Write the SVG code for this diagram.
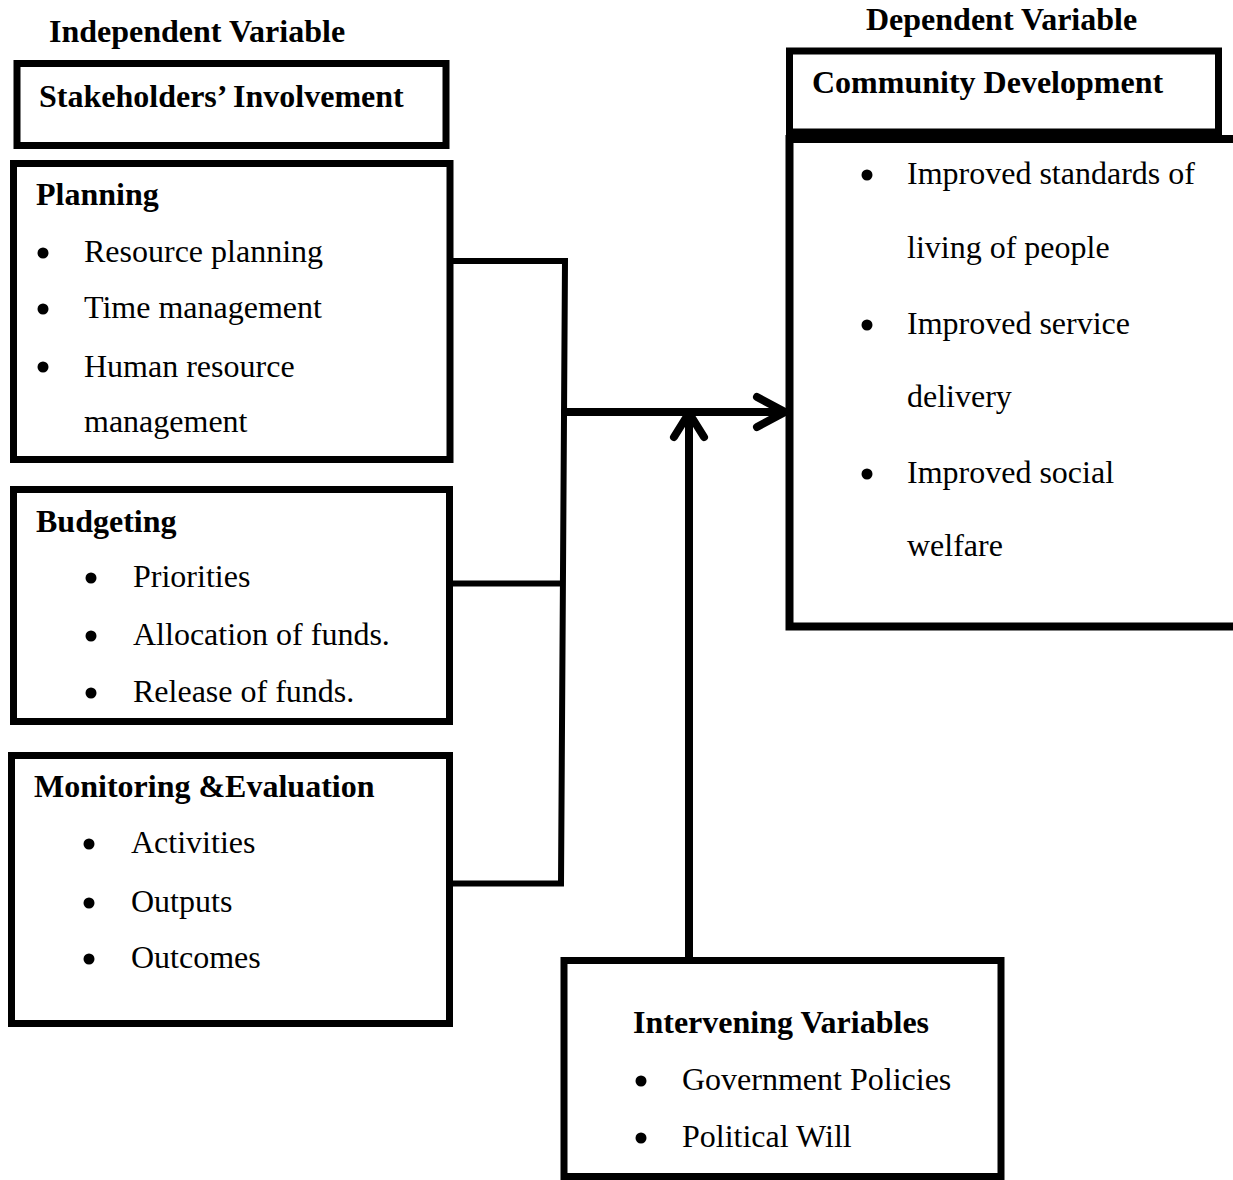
<svg xmlns="http://www.w3.org/2000/svg" width="1233" height="1180" viewBox="0 0 1233 1180">
<style>
  text { font-family: "Liberation Serif", "Times New Roman", serif; font-size: 32px; fill: #000; }
  .b { font-weight: bold; }
  .box { fill: #fff; stroke: #000; stroke-width: 7; }
  .conn { fill: none; stroke: #000; stroke-width: 6; }
  .arrow { fill: none; stroke: #000; stroke-width: 8; stroke-linecap: round; stroke-linejoin: round; }
  .bul { fill: #000; }
</style>
<rect width="1233" height="1180" fill="#fff"/>

<g id="label-independent">
  <text class="b" x="49" y="42">Independent Variable</text>
</g>
<g id="label-dependent">
  <text class="b" x="866" y="30">Dependent Variable</text>
</g>

<g id="stakeholders">
  <rect class="box" x="17" y="63.5" width="429" height="82"/>
  <text class="b" x="39" y="107">Stakeholders’ Involvement</text>
</g>

<g id="planning">
  <rect class="box" x="13.5" y="163.5" width="436.5" height="296"/>
  <text class="b" x="36" y="205">Planning</text>
  <circle class="bul" cx="43" cy="253" r="5.5"/>
  <text x="84" y="262">Resource planning</text>
  <circle class="bul" cx="43" cy="309" r="5.5"/>
  <text x="84" y="318">Time management</text>
  <circle class="bul" cx="43" cy="367" r="5.5"/>
  <text x="84" y="377">Human resource</text>
  <text x="84" y="432">management</text>
</g>

<g id="budgeting">
  <rect class="box" x="13.5" y="489.5" width="436" height="232"/>
  <text class="b" x="36" y="532">Budgeting</text>
  <circle class="bul" cx="91" cy="578" r="5.5"/>
  <text x="133" y="587">Priorities</text>
  <circle class="bul" cx="91" cy="636" r="5.5"/>
  <text x="133" y="645">Allocation of funds.</text>
  <circle class="bul" cx="91" cy="693" r="5.5"/>
  <text x="133" y="702">Release of funds.</text>
</g>

<g id="monitoring">
  <rect class="box" x="11.5" y="755.5" width="438" height="268"/>
  <text class="b" x="34" y="797">Monitoring &amp;Evaluation</text>
  <circle class="bul" cx="89" cy="844" r="5.5"/>
  <text x="131" y="853">Activities</text>
  <circle class="bul" cx="89" cy="903" r="5.5"/>
  <text x="131" y="912">Outputs</text>
  <circle class="bul" cx="89" cy="959" r="5.5"/>
  <text x="131" y="968">Outcomes</text>
</g>

<g id="community-development">
  <path d="M1240,139 H789.5 V626.5 H1240" fill="#fff" stroke="#000" stroke-width="8"/>
  <rect class="box" x="789.5" y="51" width="429" height="81" stroke-width="8"/>
  <text class="b" x="812" y="93">Community Development</text>
  <circle class="bul" cx="867" cy="175" r="5.5"/>
  <text x="907" y="184">Improved standards of</text>
  <text x="907" y="258">living of people</text>
  <circle class="bul" cx="867" cy="325" r="5.5"/>
  <text x="907" y="334">Improved service</text>
  <text x="907" y="407">delivery</text>
  <circle class="bul" cx="867" cy="474" r="5.5"/>
  <text x="907" y="483">Improved social</text>
  <text x="907" y="556">welfare</text>
</g>

<g id="intervening">
  <rect class="box" x="564" y="960.5" width="437" height="216"/>
  <text class="b" x="633" y="1033">Intervening Variables</text>
  <circle class="bul" cx="641" cy="1081" r="5.5"/>
  <text x="682" y="1090">Government Policies</text>
  <circle class="bul" cx="641" cy="1138" r="5.5"/>
  <text x="682" y="1147">Political Will</text>
</g>

<g id="connectors">
  <path class="conn" d="M453,261 H565 L561,883.5 H453"/>
  <path class="conn" d="M453,583.5 H563"/>
  <path class="arrow" d="M565,412 H785"/>
  <path class="arrow" d="M757,397 L785,412 L757,427"/>
  <path class="arrow" d="M689,957 V414" stroke-linecap="butt"/>
  <path class="arrow" d="M674,437 L689,413 L704,437"/>
</g>
</svg>
